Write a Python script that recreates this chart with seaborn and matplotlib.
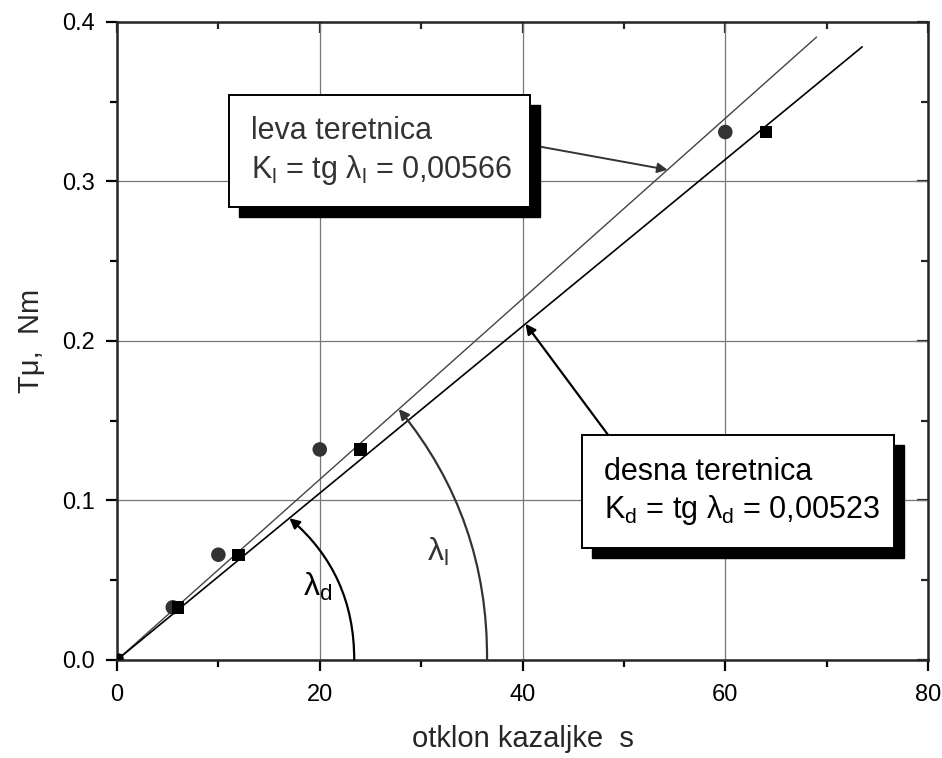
import numpy as np
import pandas as pd
import matplotlib
matplotlib.use("Agg")
import matplotlib.pyplot as plt
from matplotlib.patches import Rectangle
import seaborn as sns

# measured points
s_leva = [0, 5.5, 10, 20, 60]
s_desna = [0, 6, 12, 24, 64]
T_mu = [0, 0.033, 0.066, 0.132, 0.331]

# fitted slopes and end of each line
K_leva = 0.00566
K_desna = 0.00523
s_end_leva = 69.0
s_end_desna = 73.5

x_ticks = [0, 20, 40, 60, 80]
y_ticks = [0.0, 0.1, 0.2, 0.3, 0.4]

sns.set_style("ticks")
plt.rcParams['font.family'] = ['Liberation Sans', 'DejaVu Sans']
plt.rcParams['mathtext.fontset'] = 'custom'
plt.rcParams['mathtext.rm'] = 'Liberation Sans'
plt.rcParams['mathtext.it'] = 'Liberation Sans'

fig = plt.figure(figsize=(9.42, 7.58), dpi=100)
ax = fig.add_axes([0.1242, 0.1293, 0.861, 0.8417])

# grid
ax.set_xticks(x_ticks)
ax.set_yticks(y_ticks)
ax.grid(True, color='#777777', linewidth=0.9)
ax.set_axisbelow(True)

# fitted lines
line_l = pd.DataFrame({'s': [0, s_end_leva], 'T': [0, K_leva * s_end_leva]})
line_d = pd.DataFrame({'s': [0, s_end_desna], 'T': [0, K_desna * s_end_desna]})
sns.lineplot(data=line_l, x='s', y='T', ax=ax, color='#444444', linewidth=1.0)
sns.lineplot(data=line_d, x='s', y='T', ax=ax, color='black', linewidth=1.2)

# points
sns.scatterplot(x=s_leva, y=T_mu, ax=ax, marker='o', s=110, color='#333333',
                edgecolor='none', zorder=5)
sns.scatterplot(x=s_desna, y=T_mu, ax=ax, marker='s', s=80, color='black',
                edgecolor='none', zorder=5)

ax.set_xlim(0, 80)
ax.set_ylim(0, 0.4)
ax.yaxis.set_major_formatter(matplotlib.ticker.FormatStrFormatter('%.1f'))
ax.xaxis.set_minor_locator(matplotlib.ticker.MultipleLocator(10))
ax.yaxis.set_minor_locator(matplotlib.ticker.MultipleLocator(0.05))
ax.tick_params(which='both', direction='out', width=1.6, labelsize=17, colors='black')
ax.tick_params(which='major', length=8)
ax.tick_params(axis='x', which='major', pad=9)
ax.tick_params(axis='y', which='major', pad=8)
ax.tick_params(which='minor', length=5)
for sp in ax.spines.values():
    sp.set_linewidth(1.8)
    sp.set_visible(True)

# inward ticks on top and right
tx = ax.secondary_xaxis('top')
tx.set_xticks(x_ticks)
tx.xaxis.set_minor_locator(matplotlib.ticker.MultipleLocator(10))
tx.tick_params(which='both', direction='in', width=1.6, labeltop=False)
tx.tick_params(which='major', length=8)
tx.tick_params(which='minor', length=5)
ty = ax.secondary_yaxis('right')
ty.set_yticks(y_ticks)
ty.yaxis.set_minor_locator(matplotlib.ticker.MultipleLocator(0.05))
ty.tick_params(which='both', direction='in', width=1.6, labelright=False)
ty.tick_params(which='major', length=8)
ty.tick_params(which='minor', length=5)

ax.set_xlabel('otklon kazaljke  s', fontsize=21, labelpad=14)
ax.set_ylabel('T\u03bc,  Nm', fontsize=21, labelpad=12)

# angle arcs
ax.annotate('', xy=(17.0, K_desna * 17.0), xytext=(23.4, 0),
            arrowprops=dict(arrowstyle='-|>', color='black', lw=1.6,
                            connectionstyle='arc3,rad=0.23', mutation_scale=15,
                            shrinkA=0, shrinkB=0))
ax.annotate('', xy=(27.8, K_leva * 27.8), xytext=(36.5, 0),
            arrowprops=dict(arrowstyle='-|>', color='#333333', lw=1.6,
                            connectionstyle='arc3,rad=0.18', mutation_scale=15,
                            shrinkA=0, shrinkB=0))
ax.text(18.3, 0.04, r'$\lambda_\mathregular{d}$', fontsize=23, color='black')
ax.text(30.6, 0.062, r'$\lambda_\mathregular{l}$', fontsize=23, color='#333333')

# boxes with shadow (axes fraction)
def shadow_box(x0, y0, w, h, dx=0.0125, dy=0.0155):
    ax.add_patch(Rectangle((x0 + dx, y0 - dy), w, h, transform=ax.transAxes,
                           facecolor='black', edgecolor='black', zorder=6, clip_on=False))
    ax.add_patch(Rectangle((x0, y0), w, h, transform=ax.transAxes,
                           facecolor='white', edgecolor='black', lw=1.4, zorder=7, clip_on=False))

shadow_box(0.1380, 0.7100, 0.3710, 0.1750)
ax.text(0.1650, 0.8160, 'leva teretnica', transform=ax.transAxes, fontsize=22,
        color='#333333', zorder=8, va='baseline')
ax.text(0.1650, 0.7560, r'K$_\mathregular{l}$ = tg $\lambda_\mathregular{l}$ = 0,00566',
        transform=ax.transAxes, fontsize=22, color='#333333', zorder=8, va='baseline')

shadow_box(0.5735, 0.1756, 0.3847, 0.1771)
ax.text(0.6000, 0.2820, 'desna teretnica', transform=ax.transAxes, fontsize=22,
        color='black', zorder=8, va='baseline')
ax.text(0.6000, 0.2230, r'K$_\mathregular{d}$ = tg $\lambda_\mathregular{d}$ = 0,00523',
        transform=ax.transAxes, fontsize=22, color='black', zorder=8, va='baseline')

# pointer arrows from boxes to lines
ax.annotate('', xy=(54.3, K_leva * 54.3), xytext=(0.5155, 0.8060),
            textcoords='axes fraction',
            arrowprops=dict(arrowstyle='-|>', color='#333333', lw=1.4,
                            mutation_scale=15, shrinkA=0, shrinkB=0))
ax.annotate('', xy=(40.3, K_desna * 40.3), xytext=(0.6055, 0.3527),
            textcoords='axes fraction',
            arrowprops=dict(arrowstyle='-|>', color='black', lw=1.6,
                            mutation_scale=15, shrinkA=0, shrinkB=0))

plt.savefig('out.png', dpi=100)
